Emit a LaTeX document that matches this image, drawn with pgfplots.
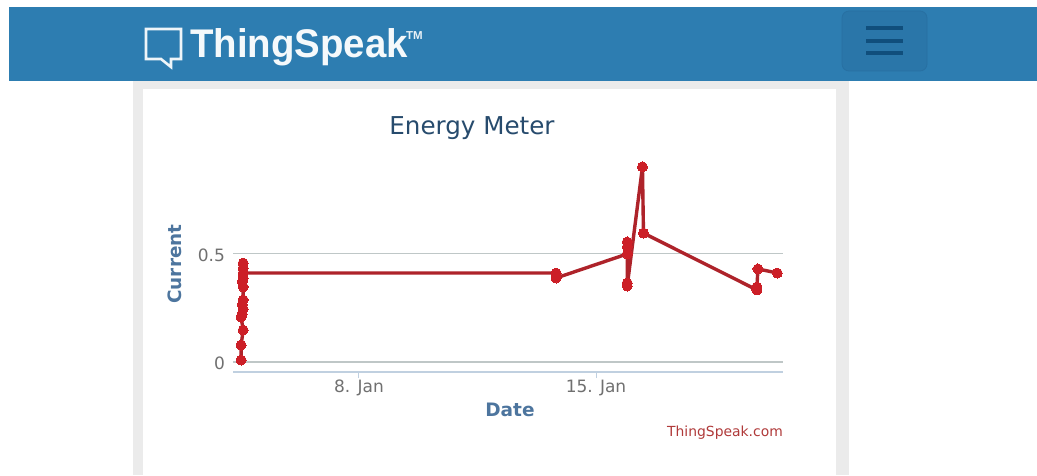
\documentclass[border=0pt]{standalone}
\usepackage{pgfplots}
\pgfplotsset{compat=1.18}
\usepackage{fontspec}
\setmainfont{DejaVu Sans}
\newfontfamily\logofont{Liberation Sans}
\definecolor{banner}{HTML}{2D7DB1}
\definecolor{btn}{HTML}{2A76A9}
\definecolor{btnedge}{HTML}{2870A2}
\definecolor{burger}{HTML}{104E7C}
\definecolor{cardedge}{HTML}{EBEBEB}
\definecolor{titlec}{HTML}{274B6D}
\definecolor{labelc}{HTML}{4D759E}
\definecolor{tickc}{HTML}{707070}
\definecolor{gridc}{HTML}{BFC7C7}
\definecolor{axisc}{HTML}{C0D0E0}
\definecolor{linec}{HTML}{AE232A}
\definecolor{markc}{HTML}{CC1F27}
\definecolor{brandc}{HTML}{B03A3A}
\pgfplotstableread{
day value
4.52 0.009
4.52 0.078
4.58 0.147
4.52 0.207
4.55 0.221
4.58 0.244
4.55 0.263
4.58 0.286
4.58 0.346
4.55 0.369
4.58 0.387
4.58 0.433
4.58 0.456
4.58 0.410
13.82 0.410
13.82 0.387
15.92 0.498
15.92 0.553
15.92 0.530
15.92 0.364
15.92 0.350
16.37 0.899
16.40 0.594
19.75 0.332
19.75 0.346
19.78 0.429
20.35 0.410
}\meter
\begin{document}
\begin{tikzpicture}[x=1pt,y=1pt]
\useasboundingbox (0,0) rectangle (1037,475);
\fill[white] (0,0) rectangle (1037,475);
% page card
\fill[cardedge] (133,0) rectangle (849,394);
\fill[white] (143,0) rectangle (836,386);
% banner
\fill[banner] (9,394) rectangle (1037,468);
\draw[btnedge,fill=btn,line width=0.8pt,rounded corners=7pt] (842,404) rectangle (927,464);
\foreach \yy in {447,434,422}
  \draw[burger,line width=3.2pt] (866,\yy) -- (903,\yy);
% logo
\draw[white!92!banner,line width=2.6pt,line join=miter]
  (146,446) -- (181,446) -- (181,416) -- (171,416) -- (171,408) -- (161,416) -- (146,416) -- cycle;
\node[anchor=base west,inner sep=0pt,text=white!95!banner,xscale=0.96] at (190,417)
  {\logofont\bfseries\fontsize{40}{40}\selectfont ThingSpeak};
\node[anchor=base west,inner sep=0pt,text=white!90!banner] at (406,435)
  {\logofont\bfseries\fontsize{11.5}{12}\selectfont TM};
\begin{axis}[
  at={(233pt,103pt)},anchor=south west,
  scale only axis,width=550pt,height=212pt,
  xmin=4.28,xmax=20.52,ymin=-0.0461,ymax=0.9309,
  clip=false,
  axis x line*=bottom,axis y line*=left,
  y axis line style={draw=none},
  x axis line style={-,draw=axisc,line width=1.2pt},
  xtick={8,15},xticklabels={8. Jan,15. Jan},
  ytick={0,0.5},yticklabels={0,0.5},
  ymajorgrids,grid style={gridc,line width=1.5pt},
  xtick style={draw=axisc,line width=1pt},
  ytick style={draw=none},
  tick align=outside,major tick length=6pt,
  /pgf/number format/assume math mode=true,
  ticklabel style={font=\fontsize{17}{19}\selectfont,text=tickc},
  yticklabel style={xshift=1.5pt,yshift=-1.5pt},
  xticklabel style={yshift=1.5pt},
  title={Energy Meter},
  title style={at={(axis description cs:0.4345,1.160)},anchor=center,inner sep=0pt,yshift=-8pt,
    font=\fontsize{24.6}{26}\selectfont,text=titlec},
  xlabel={Date},
  xlabel style={at={(axis description cs:0.5036,-0.1745)},anchor=center,inner sep=0pt,yshift=-1pt,
    font=\fontsize{18.5}{21}\bfseries\selectfont,text=labelc},
  ylabel={Current},
  ylabel style={at={(axis description cs:-0.1055,0.509)},anchor=center,inner sep=0pt,
    font=\fontsize{18.4}{21}\bfseries\selectfont,text=labelc},
]
\addplot[linec,line width=3.4pt,line join=round,mark=*,mark size=5pt,
  mark options={draw=markc,fill=markc,line width=0pt}] table[x=day,y=value] {\meter};
\end{axis}
\node[anchor=base east,inner sep=0pt,text=brandc] at (783,39)
  {\fontsize{13.9}{15}\selectfont ThingSpeak.com};
\end{tikzpicture}
\end{document}
